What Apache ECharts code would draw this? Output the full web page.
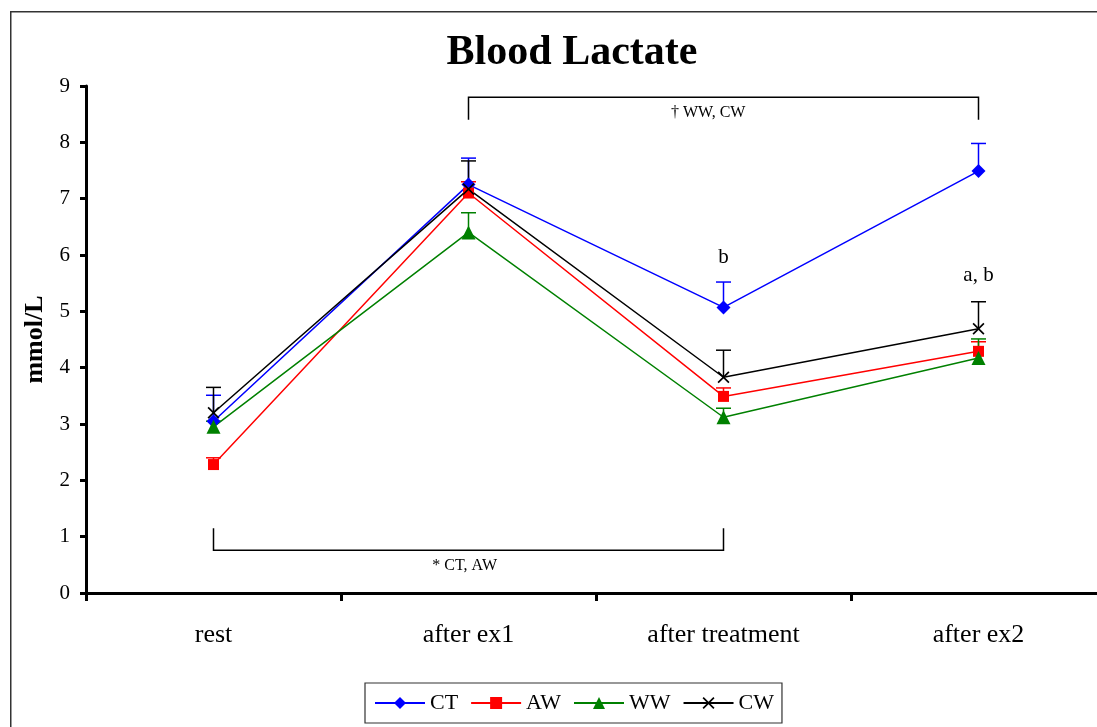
<!DOCTYPE html>
<html>
<head>
<meta charset="utf-8">
<script src="https://cdn.jsdelivr.net/npm/echarts@6/dist/echarts.min.js"></script>
<style>html,body{margin:0;padding:0;background:#fff}#c{width:1097px;height:727px}</style>
</head>
<body>
<div id="c"></div>
<script>
const categories = ['rest', 'after ex1', 'after treatment', 'after ex2'];
const seriesNames = ['CT', 'AW', 'WW', 'CW'];
const CT = [3.05, 7.25, 5.07, 7.49];
const AW = [2.28, 7.10, 3.49, 4.29];
const WW = [2.95, 6.40, 3.12, 4.17];
const CW = [3.20, 7.17, 3.83, 4.69];
const CT_err = [0.46, 0.47, 0.45, 0.49];
const AW_err = [0.12, 0.20, 0.15, 0.17];
const WW_err = [0.10, 0.35, 0.16, 0.34];
const CW_err = [0.45, 0.50, 0.48, 0.48];
const yTicks = [0, 1, 2, 3, 4, 5, 6, 7, 8, 9];
// brackets: [fromCategoryIndex, toCategoryIndex, barValue, tickEndValue]
const brackets = [[1, 3, 8.8, 8.4], [0, 2, 0.76, 1.15]];
// annotations: position (category index, value) and text
const noteX = [2, 3.0, 1.94, 0.985];
const noteY = [5.95, 5.63, 8.52, 0.48];
const noteText = ['b', 'a, b', '\u2020 WW, CW', '* CT, AW'];

const values = [CT, AW, WW, CW];
const errs = [CT_err, AW_err, WW_err, CW_err];
const colors = ['#0000ff', '#ff0000', '#008000', '#000000'];
const xPath = 'path://M0,1 L1,0 L5,4 L9,0 L10,1 L6,5 L10,9 L9,10 L5,6 L1,10 L0,9 L4,5 Z';
const symbols = ['diamond', 'rect', 'triangle', xPath];
const symbolSizes = [14, 11, 14, 12];
const serif = '"Liberation Serif", "Times New Roman", serif';

// coordinate of a fractional category position, interpolated between category centres
function fracCoord(api, x, y) {
  const i0 = Math.floor(x), i1 = Math.ceil(x);
  const a = api.coord([i0, y]);
  if (i0 === i1) return a;
  const b = api.coord([i1, y]);
  const t = x - i0;
  return [a[0] + (b[0] - a[0]) * t, a[1]];
}

const series = [];
// error bars
values.forEach((vals, s) => {
  series.push({
    type: 'custom',
    name: seriesNames[s] + ' err',
    z: 2,
    silent: true,
    data: vals.map((v, i) => [i, v, v + errs[s][i]]),
    encode: { x: 0, y: [1, 2] },
    renderItem: function (params, api) {
      const p0 = api.coord([api.value(0), api.value(1)]);
      const p1 = api.coord([api.value(0), api.value(2)]);
      const hw = 7.5;
      return {
        type: 'group',
        children: [
          { type: 'line', shape: { x1: p0[0], y1: p0[1], x2: p1[0], y2: p1[1] }, style: { stroke: colors[s], lineWidth: 1.5 } },
          { type: 'line', shape: { x1: p1[0] - hw, y1: p1[1], x2: p1[0] + hw, y2: p1[1] }, style: { stroke: colors[s], lineWidth: 1.5 } }
        ]
      };
    }
  });
});
values.forEach((vals, s) => {
  series.push({
    type: 'line',
    name: seriesNames[s],
    data: vals,
    z: 3,
    color: colors[s],
    symbol: symbols[s],
    symbolSize: symbolSizes[s],
    showAllSymbol: true,
    lineStyle: { color: colors[s], width: 1.5 },
    itemStyle: { color: colors[s] },
    animation: false
  });
});
// brackets
series.push({
  type: 'custom',
  name: 'brackets',
  silent: true,
  z: 1,
  data: brackets,
  encode: { x: [0, 1], y: [2, 3] },
  renderItem: function (params, api) {
    const a = api.coord([api.value(0), api.value(3)]);
    const b = api.coord([api.value(0), api.value(2)]);
    const c = api.coord([api.value(1), api.value(2)]);
    const d = api.coord([api.value(1), api.value(3)]);
    return {
      type: 'polyline',
      shape: { points: [a, b, c, d] },
      style: { stroke: '#000', lineWidth: 1.5, fill: null }
    };
  }
});
// annotations
series.push({
  type: 'custom',
  name: 'notes',
  silent: true,
  z: 4,
  data: noteY.map((y, i) => [Math.round(noteX[i]), y]),
  encode: { x: 0, y: 1 },
  renderItem: function (params, api) {
    const i = params.dataIndex;
    const p = fracCoord(api, noteX[i], api.value(1));
    return {
      type: 'text',
      x: p[0], y: p[1],
      style: {
        text: noteText[i],
        fill: '#000',
        font: (i < 2 ? '21px ' : '16px ') + serif,
        align: 'center',
        verticalAlign: 'middle'
      }
    };
  }
});

const chart = echarts.init(document.getElementById('c'), null, { renderer: 'canvas' });
chart.setOption({
  animation: false,
  backgroundColor: '#fff',
  graphic: [{
    type: 'rect', left: 10, top: 11, z: -10,
    shape: { width: 1200, height: 800 },
    style: { fill: '#fff', stroke: '#333', lineWidth: 1.5 }
  }],
  title: {
    text: 'Blood Lactate',
    left: 567, top: 27, textAlign: 'center',
    textStyle: { fontFamily: serif, fontSize: 42, fontWeight: 'bold', color: '#000' }
  },
  legend: {
    data: seriesNames,
    left: 365, top: 683,
    orient: 'horizontal',
    itemWidth: 50, itemHeight: 15, itemGap: 12,
    padding: [9, 8, 9, 9],
    borderColor: '#333', borderWidth: 1.2,
    textStyle: { fontFamily: serif, fontSize: 22, color: '#000' }
  },
  grid: { left: 86, top: 86, width: 1020, height: 507, outerBoundsMode: 'none', containLabel: false },
  xAxis: {
    type: 'category',
    data: categories,
    boundaryGap: true,
    axisLine: { lineStyle: { color: '#000', width: 3 } },
    axisTick: { show: true, length: 8, lineStyle: { color: '#000', width: 3 } },
    axisLabel: { fontFamily: serif, fontSize: 26, color: '#000', margin: 29 }
  },
  yAxis: {
    type: 'value',
    min: yTicks[0], max: yTicks[yTicks.length - 1], interval: 1,
    name: 'mmol/L',
    nameLocation: 'middle', nameGap: 38,
    nameTextStyle: { fontFamily: serif, fontSize: 26, fontWeight: 'bold', color: '#000' },
    splitLine: { show: false },
    axisLine: { show: true, lineStyle: { color: '#000', width: 3 } },
    axisTick: { show: true, length: 6, lineStyle: { color: '#000', width: 3 } },
    axisLabel: { fontFamily: serif, fontSize: 21, color: '#000', margin: 16 }
  },
  series: series
});
</script>
</body>
</html>
